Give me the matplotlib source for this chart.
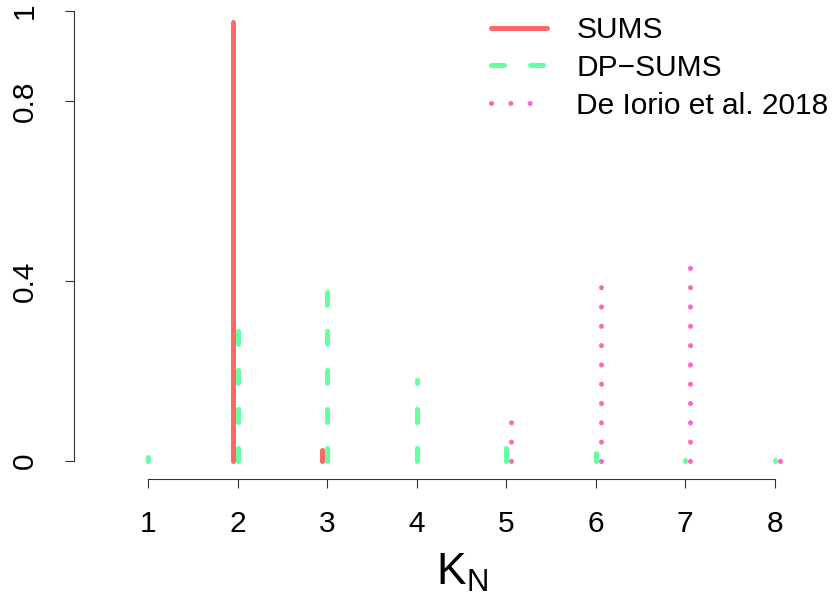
import matplotlib
matplotlib.use("Agg")
import matplotlib.pyplot as plt

# values (posterior of K_N)
k_values = [1, 2, 3, 4, 5, 6, 7, 8]
sums_k = [2, 3]
sums_prob = [0.975, 0.025]
dp_sums_k = [1, 2, 3, 4, 5, 6, 7, 8]
dp_sums_prob = [0.01, 0.30, 0.375, 0.18, 0.035, 0.017, 0.003, 0.002]
deiorio_k = [5, 6, 7, 8]
deiorio_prob = [0.09, 0.395, 0.435, 0.002]
y_ticks = [0, 0.4, 0.8, 1]
y_ticklabels = ["0", "0.4", "0.8", "1"]
series_names = ["SUMS", "DP\u2212SUMS", "De Iorio et al. 2018"]

plt.rcParams["font.family"] = ["Liberation Sans", "DejaVu Sans"]
plt.rcParams["mathtext.fontset"] = "custom"
plt.rcParams["mathtext.rm"] = "Liberation Sans"
plt.rcParams["mathtext.it"] = "Liberation Sans"
plt.rcParams["lines.scale_dashes"] = False

W, H = 839, 599
fig = plt.figure(figsize=(W / 100, H / 100), dpi=100)

# axes box in pixels: left spine at x=74, bottom axis at y=479, y=1 at y=11
ax = fig.add_axes([74 / W, (H - 479) / H, (W - 74) / W, 468 / H])
px_per_unit = 89.5
ax.set_xlim(1 - (148.3 - 74) / px_per_unit, 1 + (W - 148.3) / px_per_unit)
ax.set_ylim(-0.04, 1.0)

lw = 3.6
offset = 0.055
red = "#FF6666"
green = "#66FFA3"
pink = "#FF66BE"

for i, (k, p) in enumerate(zip(sums_k, sums_prob)):
    ax.plot([k - offset, k - offset], [0, p], color=red, lw=lw,
            solid_capstyle="round", label=series_names[0] if i == 0 else None)

for i, (k, p) in enumerate(zip(dp_sums_k, dp_sums_prob)):
    ax.plot([k, k], [0, p], color=green, lw=lw, linestyle=(0, (9.4, 18.7)),
            dash_capstyle="round", solid_capstyle="round",
            label=series_names[1] if i == 0 else None)

for i, (k, p) in enumerate(zip(deiorio_k, deiorio_prob)):
    ax.plot([k + offset, k + offset], [0, p], color=pink, lw=lw, linestyle=(0, (0.1, 13.8)),
            dash_capstyle="round", solid_capstyle="round",
            label=series_names[2] if i == 0 else None)

for s in ["top", "right"]:
    ax.spines[s].set_visible(False)
ax.spines["left"].set_bounds(0, 1)
ax.spines["bottom"].set_bounds(1, 8)
ax.spines["left"].set_linewidth(0.8)
ax.spines["bottom"].set_linewidth(0.8)
ax.spines["left"].set_color("#333333")
ax.spines["bottom"].set_color("#333333")

ax.set_xticks(k_values)
ax.set_xticklabels([str(k) for k in k_values])
ax.set_yticks(y_ticks)
ax.set_yticklabels(y_ticklabels, rotation=90, va="center")
ax.tick_params(axis="x", length=6.5, width=0.8, pad=15.5, labelsize=21.5, color="#333333")
ax.tick_params(axis="y", length=6.5, width=0.8, pad=19, labelsize=21.5, color="#333333")

ax.set_xlabel(r"$\mathrm{K}_\mathrm{N}$", fontsize=32, labelpad=10)
ax.xaxis.label.set_x((4.5 - ax.get_xlim()[0]) / (ax.get_xlim()[1] - ax.get_xlim()[0]))

leg = ax.legend(loc="upper left", bbox_to_anchor=(491 / W, 1 - 16 / H),
                bbox_transform=fig.transFigure, frameon=False, fontsize=21.5,
                handlelength=1.86, handletextpad=1.0, labelspacing=0.33,
                borderpad=0, borderaxespad=0)

fig.savefig("out.png", dpi=100)
